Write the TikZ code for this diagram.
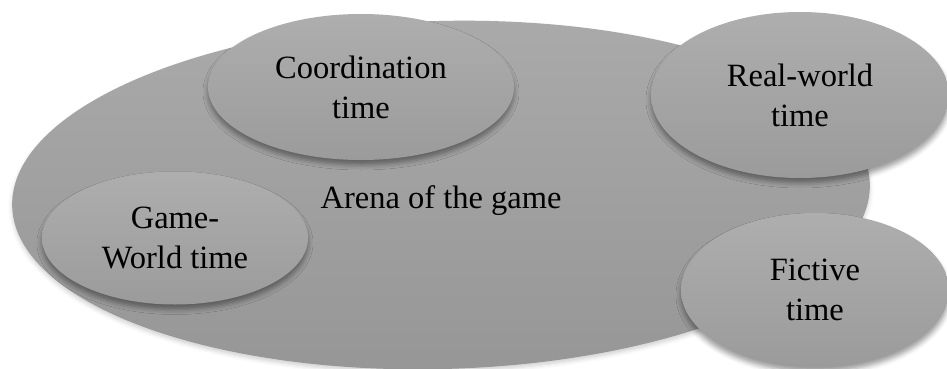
\documentclass[tikz,border=0pt]{standalone}
\usepackage{fontspec}
\setmainfont{Liberation Serif}
\newfontfamily\labelfont{Liberation Serif}
\usetikzlibrary{shapes.geometric,shadows.blur}

\definecolor{arenaTop}{HTML}{AAAAAA}
\definecolor{arenaBot}{HTML}{969696}
\definecolor{bubbleTop}{HTML}{AEAEAE}
\definecolor{bubbleBot}{HTML}{9B9B9B}

\tikzset{
  arena/.style={ellipse, inner sep=0pt, outer sep=0pt,
    top color=arenaTop, bottom color=arenaBot,
    blur shadow={shadow xshift=0pt, shadow yshift=-3pt,
      shadow blur radius=4pt, shadow opacity=18}},
  timebubble/.style={ellipse, inner sep=0pt, outer sep=0pt, align=center,
    top color=bubbleTop, bottom color=bubbleBot,
    font=\labelfont\fontsize{32.5}{40}\selectfont,
    blur shadow={shadow xshift=0pt, shadow yshift=-5pt,
      shadow blur radius=5pt, shadow opacity=40}},
  label/.style={font=\labelfont\fontsize{32.5}{40}\selectfont, inner sep=0pt}
}

\begin{document}
\begin{tikzpicture}[x=1pt, y=-1pt]
  \useasboundingbox (0,0) rectangle (947,369);

  % the arena
  \node[arena, rotate=1.5, minimum width=858pt, minimum height=348pt]
    (arena) at (441,195) {};
  \node[label, anchor=base] (arenatext) at (441,208) {Arena of the game};

  % the four kinds of time
  \node[timebubble, minimum width=306pt, minimum height=146pt]
    (coord) at (361,87) {Coordination\\time};
  \node[timebubble, minimum width=266pt, minimum height=133pt]
    (gameworld) at (175,238) {Game-\\World time};
  \node[timebubble, minimum width=298pt, minimum height=166pt]
    (realworld) at (800,95) {Real-world\\time};
  \node[timebubble, minimum width=268pt, minimum height=154pt]
    (fictive) at (815,290) {Fictive\\time};
\end{tikzpicture}
\end{document}
